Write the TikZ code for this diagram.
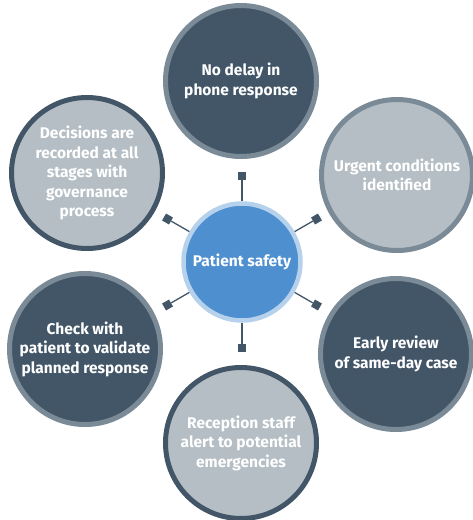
\documentclass[tikz,border=0pt]{standalone}
\usepackage{fontspec}
\usetikzlibrary{calc}
\newfontfamily\diagfont{Fira Sans}
\definecolor{slate}{HTML}{425668}
\definecolor{slateedge}{HTML}{7A8A96}
\definecolor{mist}{HTML}{B4BEC4}
\definecolor{hubblue}{HTML}{4E8FD0}
\definecolor{hubring}{HTML}{B6D1EB}

\tikzset{
  stage/.style={circle, minimum size=151pt, line width=5pt, inner sep=0pt,
    align=center, text=white, font=\diagfont\bfseries\fontsize{15.5}{19.5}\selectfont},
  darkstage/.style={stage, fill=slate, draw=slateedge},
  lightstage/.style={stage, fill=mist, draw=slate},
  greystage/.style={stage, fill=mist, draw=slateedge},
  hub/.style={circle, minimum size=117pt, line width=4.5pt, fill=hubblue, draw=hubring,
    inner sep=0pt, text=white, font=\diagfont\bfseries\fontsize{15.5}{19}\selectfont},
  marker/.style={rectangle, minimum size=8pt, inner sep=0pt, fill=slate},
  link/.style={draw=slate, line width=1.3pt}
}

\begin{document}
\begin{tikzpicture}[x=1pt,y=-1pt]
\useasboundingbox (0,0) rectangle (473,520);
% centre
\node[hub] (safety) at (242,262) {Patient safety};
% outer circles
\node[darkstage] (phone) at (241,81) {No delay in\\phone response};
\node[greystage] (urgent) at (397,175) {Urgent conditions\\identified};
\node[darkstage] (review) at (396,354) {Early review\\of same-day case};
\node[lightstage] (reception) at (241,443) {Reception staff\\alert to potential\\emergencies};
\node[darkstage] (check) at (85,349) {Check with\\patient to validate\\planned response};
\node[lightstage] (decisions) at (87,173) {Decisions are\\recorded at all\\stages with\\governance\\process};
% spokes with square ends
\foreach \a/\n in {90/1, 30/2, -30/3, -90/4, -150/5, 150/6} {
  \node[marker, rotate=\a] (m\n) at ($(safety)+(\a:86pt)$) {};
  \draw[link] (safety) -- (m\n);
}
\end{tikzpicture}
\end{document}
